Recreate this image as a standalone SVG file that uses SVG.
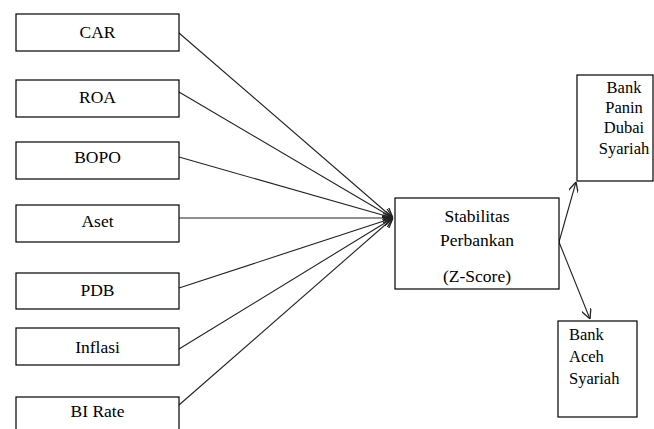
<svg xmlns="http://www.w3.org/2000/svg" width="654" height="429" viewBox="0 0 654 429">
<defs>
<marker id="arr" viewBox="0 0 10 10" refX="10" refY="5" markerWidth="10" markerHeight="10" markerUnits="userSpaceOnUse" orient="auto">
<path d="M0,0 L10,5 L0,10" fill="none" stroke="#222" stroke-width="1.3"/>
</marker>
</defs>
<rect width="654" height="429" fill="#fff"/>
<g id="connectors" fill="none" stroke="#222" stroke-width="1.1" marker-end="url(#arr)">
<line x1="179" y1="33" x2="393" y2="218"/>
<line x1="179" y1="92" x2="393" y2="218"/>
<line x1="179" y1="157" x2="393" y2="218"/>
<line x1="179" y1="218" x2="393" y2="218"/>
<line x1="179" y1="288" x2="393" y2="218"/>
<line x1="179" y1="349" x2="393" y2="218"/>
<line x1="179" y1="405" x2="393" y2="218"/>
<line x1="559" y1="242" x2="576" y2="182"/>
<line x1="559" y1="242" x2="590" y2="319"/>
</g>
<g id="car"><rect fill="#fff" stroke="#000" stroke-width="1.2" x="16" y="14" width="163" height="37"/><text font-family="Liberation Serif" font-size="17.5" text-anchor="middle" x="97.5" y="38">CAR</text></g>
<g id="roa"><rect fill="#fff" stroke="#000" stroke-width="1.2" x="16" y="80" width="163" height="37"/><text font-family="Liberation Serif" font-size="17.5" text-anchor="middle" x="97.5" y="103">ROA</text></g>
<g id="bopo"><rect fill="#fff" stroke="#000" stroke-width="1.2" x="16" y="142" width="163" height="37"/><text font-family="Liberation Serif" font-size="17.5" text-anchor="middle" x="97.5" y="163">BOPO</text></g>
<g id="aset"><rect fill="#fff" stroke="#000" stroke-width="1.2" x="16" y="205" width="163" height="37"/><text font-family="Liberation Serif" font-size="17.5" text-anchor="middle" x="97.5" y="227">Aset</text></g>
<g id="pdb"><rect fill="#fff" stroke="#000" stroke-width="1.2" x="16" y="273" width="163" height="36"/><text font-family="Liberation Serif" font-size="17.5" text-anchor="middle" x="97.5" y="296">PDB</text></g>
<g id="inflasi"><rect fill="#fff" stroke="#000" stroke-width="1.2" x="16" y="328" width="163" height="37"/><text font-family="Liberation Serif" font-size="17.5" text-anchor="middle" x="97.5" y="353">Inflasi</text></g>
<g id="birate"><rect fill="#fff" stroke="#000" stroke-width="1.2" x="16" y="397" width="163" height="40"/><text font-family="Liberation Serif" font-size="17.5" text-anchor="middle" x="97.5" y="417">BI Rate</text></g>
<g id="stabilitas"><rect fill="#fff" stroke="#000" stroke-width="1.2" x="395" y="198" width="164" height="91"/>
<text font-family="Liberation Serif" font-size="17.5" text-anchor="middle" x="477" y="222">Stabilitas</text>
<text font-family="Liberation Serif" font-size="17.5" text-anchor="middle" x="477" y="246">Perbankan</text>
<text font-family="Liberation Serif" font-size="17.5" text-anchor="middle" x="477" y="282">(Z-Score)</text></g>
<g id="panin"><rect fill="#fff" stroke="#000" stroke-width="1.2" x="577" y="75" width="76" height="106"/>
<text font-family="Liberation Serif" font-size="16.5" text-anchor="middle" x="624" y="93">Bank</text>
<text font-family="Liberation Serif" font-size="16.5" text-anchor="middle" x="624" y="113">Panin</text>
<text font-family="Liberation Serif" font-size="16.5" text-anchor="middle" x="624" y="133">Dubai</text>
<text font-family="Liberation Serif" font-size="16.5" text-anchor="middle" x="624" y="154">Syariah</text></g>
<g id="aceh"><rect fill="#fff" stroke="#000" stroke-width="1.2" x="558" y="321" width="79" height="96"/>
<text font-family="Liberation Serif" font-size="16.5" x="569" y="340">Bank</text>
<text font-family="Liberation Serif" font-size="16.5" x="569" y="362">Aceh</text>
<text font-family="Liberation Serif" font-size="16.5" x="569" y="384">Syariah</text></g>
</svg>
